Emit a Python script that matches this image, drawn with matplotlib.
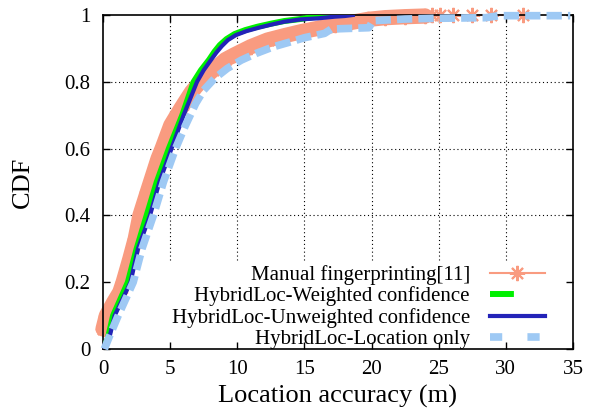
import numpy as np
import matplotlib
matplotlib.use("Agg")
import matplotlib.pyplot as plt
from matplotlib.lines import Line2D

plt.rcParams["font.family"] = ["Liberation Serif", "DejaVu Serif"]

# --- data ------------------------------------------------------------------
manual_x = [0.0, 0.25, 0.8, 1.25, 1.5, 2.0, 2.4, 2.75, 3.3, 3.7, 4.1, 4.4, 5.05,
            5.8, 6.6, 7.25, 8.2, 9.1, 9.75, 11.0, 12.25, 13.5, 14.75, 16.0,
            17.25, 18.5, 19.75, 21.0, 22.5, 24.0, 24.5, 25.1, 26.1, 27.5, 28.9, 31.3]
manual_y = [0.06, 0.10, 0.14, 0.17, 0.20, 0.27, 0.33, 0.40, 0.47, 0.52, 0.57, 0.60,
            0.67, 0.72, 0.77, 0.80, 0.835, 0.866, 0.88, 0.905, 0.925, 0.938, 0.95,
            0.96, 0.97, 0.978, 0.987, 0.992, 0.995, 0.997, 1.0, 1.0, 1.0, 1.0, 1.0, 1.0]

weighted_x = [0.0, 0.35, 0.75, 1.85, 2.5, 3.25, 4.0, 4.9, 5.9, 6.75, 7.3, 7.9,
              8.3, 8.7, 9.2, 9.8, 10.6, 11.5, 12.5, 13.5, 14.7, 15.8, 16.5, 17.0]
weighted_y = [0.0, 0.03, 0.10, 0.20, 0.30, 0.40, 0.50, 0.60, 0.70, 0.80, 0.835,
              0.866, 0.89, 0.91, 0.928, 0.943, 0.955, 0.965, 0.974, 0.982, 0.988,
              0.995, 1.0, 1.0]

unweighted_x = [0.0, 0.45, 0.87, 2.05, 2.6, 3.5, 4.2, 5.1, 6.0, 7.0, 7.5, 8.05,
                8.45, 8.85, 9.3, 9.9, 10.7, 11.6, 12.5, 13.5, 14.75, 16.0, 17.25,
                18.0, 18.6]
unweighted_y = [0.0, 0.03, 0.10, 0.20, 0.30, 0.40, 0.50, 0.60, 0.70, 0.80, 0.835,
                0.866, 0.888, 0.907, 0.925, 0.94, 0.952, 0.962, 0.971, 0.98,
                0.987, 0.99, 0.995, 0.997, 1.0]

location_x = [0.1, 0.5, 1.13, 2.25, 2.9, 3.75, 4.5, 5.4, 6.1, 6.9, 7.5, 8.3, 9.25,
              10.3, 11.4, 12.7, 14.0, 15.0, 16.5, 17.0, 19.8, 20.1, 22.5, 24.5,
              28.5, 29.5, 34.8]
location_y = [0.0, 0.04, 0.10, 0.20, 0.30, 0.40, 0.50, 0.60, 0.666, 0.735, 0.775,
              0.81, 0.84, 0.865, 0.885, 0.905, 0.92, 0.932, 0.945, 0.958, 0.962,
              0.983, 0.988, 0.99, 0.992, 0.998, 0.998]

labels = ["Manual fingerprinting[11]", "HybridLoc-Weighted confidence",
          "HybridLoc-Unweighted confidence", "HybridLoc-Location only"]
x_ticks = [0, 5, 10, 15, 20, 25, 30, 35]
y_ticks = [0, 0.2, 0.4, 0.6, 0.8, 1]

c_salmon = "#F99B80"
c_green = "#00F000"
c_blue = "#2323B8"
c_light = "#9EC9F4"
star = (8, 2, 0)

fig = plt.figure(figsize=(5.89, 4.16), dpi=100)
ax = fig.add_axes([0.1749, 0.1611, 0.7979, 0.8028])
ax.set_xlim(0, 35)
ax.set_ylim(0, 1)

# grid (hidden behind the key area at the bottom)
key_top = 0.266
for xv in x_ticks[1:-1]:
    ax.axvline(xv, ymin=key_top, ymax=1, color="black", lw=0.8,
               ls=(0, (1, 2.5)), zorder=0.5)
for yv in y_ticks[2:-1]:
    ax.axhline(yv, color="black", lw=0.8, ls=(0, (1, 2.5)), zorder=0.5)

# manual fingerprinting: dense asterisks form a thick band
dense = sum(1 for v in manual_x if v < 24.2)
ax.plot(manual_x[:dense], manual_y[:dense], color=c_salmon, lw=11,
        solid_capstyle="round", solid_joinstyle="round", clip_on=False, zorder=2)
ax.plot(manual_x, manual_y, color=c_salmon, lw=1.5, marker=star, ms=11,
        mew=1.5, clip_on=False, zorder=2)
ax.plot(weighted_x, weighted_y, color=c_green, lw=4.3, zorder=3)
ax.plot(unweighted_x, unweighted_y, color=c_blue, lw=3, zorder=4)
ax.plot(location_x, location_y, color=c_light, lw=5.5, dashes=(2.0, 0.8),
        clip_on=False, zorder=5)

handles = [
    Line2D([], [], color=c_salmon, lw=1.5, marker=star, ms=11, mew=1.5),
    Line2D([], [], color=c_green, lw=4.3, dashes=(4, 8)),
    Line2D([], [], color=c_blue, lw=3),
    Line2D([], [], color=c_light, lw=5.5, dashes=(1.6, 3.3)),
]
leg = ax.legend(handles, labels, loc="lower right", bbox_to_anchor=(0.947, -0.01),
                frameon=False, markerfirst=False, fontsize=15, numpoints=1,
                handlelength=2.65, handletextpad=0.95, borderpad=0.15,
                borderaxespad=0, labelspacing=0.08)
leg.set_zorder(6)

ax.set_xticks(x_ticks)
ax.set_yticks(y_ticks)
ax.set_yticklabels(["0", "0.2", "0.4", "0.6", "0.8", "1"])
ax.tick_params(direction="in", length=5, width=1, top=True, right=True,
               labelsize=15, color="black")
ax.tick_params(axis="y", pad=9)
ax.tick_params(axis="x", pad=8)
for s in ax.spines.values():
    s.set_linewidth(1.2)

ax.set_xlabel("Location accuracy (m)", fontsize=19, labelpad=4)
ax.set_ylabel("CDF", fontsize=19, labelpad=22)

fig.savefig("out.png", dpi=100)
